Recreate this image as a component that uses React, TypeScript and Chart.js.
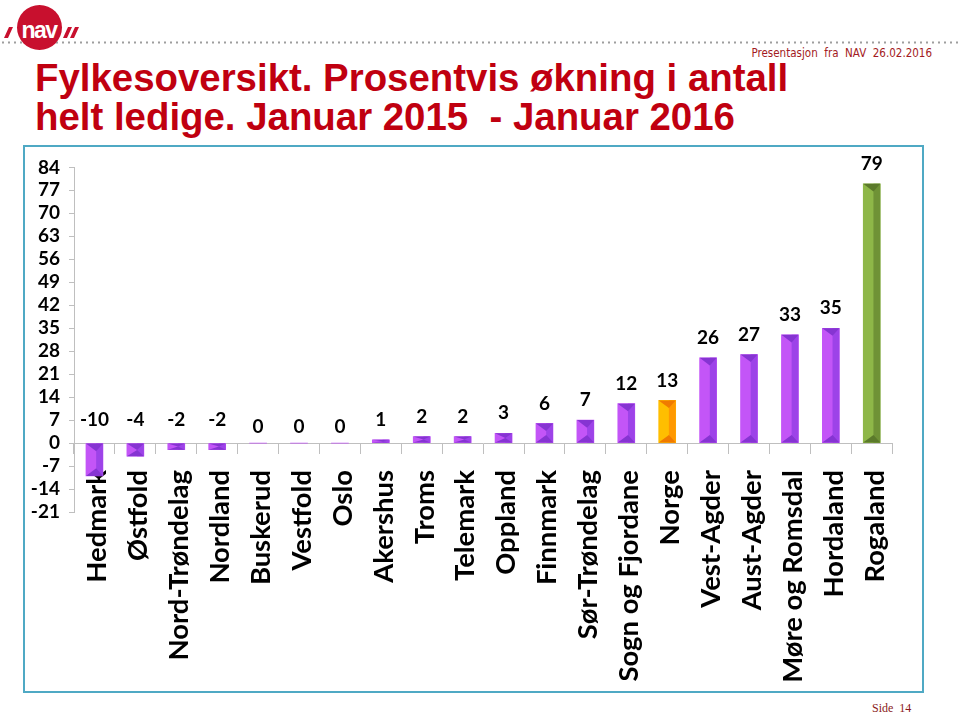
import React, { useEffect, useRef } from "react";
import { Chart, registerables } from "chart.js";

Chart.register(...registerables);

// ---- data ----
const categories = [
  "Hedmark",
  "Østfold",
  "Nord-Trøndelag",
  "Nordland",
  "Buskerud",
  "Vestfold",
  "Oslo",
  "Akershus",
  "Troms",
  "Telemark",
  "Oppland",
  "Finnmark",
  "Sør-Trøndelag",
  "Sogn og Fjordane",
  "Norge",
  "Vest-Agder",
  "Aust-Agder",
  "Møre og Romsdal",
  "Hordaland",
  "Rogaland",
];
const values = [-10, -4, -2, -2, 0, 0, 0, 1, 2, 2, 3, 6, 7, 12, 13, 26, 27, 33, 35, 79];
const yTicks = [-21, -14, -7, 0, 7, 14, 21, 28, 35, 42, 49, 56, 63, 70, 77, 84];

// ---- styles ----
type Palette = { light: string; dark: string; edge: string };
const PURPLE: Palette = { light: "#C355F7", dark: "#9D43E8", edge: "#8634D2" };
const ORANGE: Palette = { light: "#FFBE00", dark: "#FF9800", edge: "#F07A00" };
const GREEN: Palette = { light: "#8EB748", dark: "#6F9236", edge: "#5B7A2B" };
const highlight: Record<string, Palette> = { Norge: ORANGE, Rogaland: GREEN };
const paletteFor = (c: string) => highlight[c] || PURPLE;

const FONT = "Lato, Carlito, Calibri, sans-serif";

const bevelPlugin = {
  id: "bevelAndLabels",
  afterDatasetsDraw(chart: any) {
    const ctx = chart.ctx;
    const meta = chart.getDatasetMeta(0);
    const yScale = chart.scales.y;
    ctx.save();
    meta.data.forEach((el: any, i: number) => {
      const p = paletteFor(categories[i]);
      const { x, y, base, width } = el.getProps(["x", "y", "base", "width"], true);
      const left = x - width / 2;
      const right = x + width / 2;
      const top = Math.min(y, base);
      const bottom = Math.max(y, base);
      const h = bottom - top;
      if (h > 0.5) {
        const apex = left + width * 0.6;
        const th = Math.min(width * 0.45, h / 2);
        ctx.fillStyle = p.dark;
        ctx.fillRect(apex, top, right - apex, h);
        ctx.fillStyle = p.edge;
        ctx.beginPath();
        ctx.moveTo(left, top);
        ctx.lineTo(right, top);
        ctx.lineTo(apex, top + th);
        ctx.closePath();
        ctx.fill();
        ctx.beginPath();
        ctx.moveTo(left, bottom);
        ctx.lineTo(right, bottom);
        ctx.lineTo(apex, bottom - th);
        ctx.closePath();
        ctx.fill();
      }
      const v = values[i];
      const off = v < 0 ? 23 : v === 0 ? 16 : 20;
      const ly = yScale.getPixelForValue(Math.max(v, 0)) - off;
      ctx.fillStyle = "#000";
      ctx.font = `bold 19px ${FONT}`;
      ctx.textAlign = "center";
      ctx.textBaseline = "middle";
      ctx.fillText(String(v), x, ly);
    });
    ctx.restore();
  },
};

function ChartBox() {
  const ref = useRef<HTMLCanvasElement>(null);
  useEffect(() => {
    const canvas = ref.current!;
    const chart = new Chart(canvas, {
      type: "bar",
      data: {
        labels: categories,
        datasets: [
          {
            data: values,
            backgroundColor: categories.map((c) => paletteFor(c).light),
            borderWidth: 0,
            barThickness: 17,
          },
        ],
      },
      options: {
        responsive: false,
        animation: false,
        devicePixelRatio: 1,
        layout: { padding: { left: 0, top: 20, right: 15, bottom: 179 } },
        plugins: { legend: { display: false }, tooltip: { enabled: false } },
        scales: {
          x: {
            position: { y: 0 } as any,
            z: 1,
            offset: true,
            grid: {
              display: true,
              drawOnChartArea: false,
              drawTicks: true,
              tickLength: 10,
              color: "#BFBFBF",
              offset: true,
            },
            border: { display: true, color: "#BFBFBF", width: 1 },
            ticks: {
              autoSkip: false,
              minRotation: 90,
              maxRotation: 90,
              padding: 17,
              labelOffset: 3,
              color: "#000",
              font: { family: FONT, weight: "bold", size: 27.4 },
            },
          },
          y: {
            min: yTicks[0],
            max: yTicks[yTicks.length - 1],
            afterBuildTicks: (s: any) => {
              s.ticks = yTicks.map((v) => ({ value: v }));
            },
            afterFit: (s: any) => {
              s.width = 49;
            },
            grid: { drawOnChartArea: false, tickLength: 5, color: "#BFBFBF" },
            border: { color: "#BFBFBF" },
            ticks: {
              autoSkip: false,
              padding: 9,
              color: "#000",
              font: { family: FONT, weight: "bold", size: 19 },
            },
          },
        },
      } as any,
      plugins: [bevelPlugin],
    });
    return () => chart.destroy();
  }, []);
  return (
    <canvas
      ref={ref}
      width={897}
      height={544}
      style={{ position: "absolute", left: 25, top: 147, width: 897, height: 544 }}
    />
  );
}

export default function App() {
  return (
    <div
      style={{
        position: "absolute",
        left: 0,
        top: 0,
        width: 960,
        height: 717,
        overflow: "hidden",
        background: "#fff",
      }}
    >
      <svg width={960} height={60} style={{ position: "absolute", left: 0, top: 0 }}>
        <line x1={2} y1={42.5} x2={960} y2={42.5} stroke="#9E9E9E" strokeWidth={2} strokeDasharray="2 4" />
        <polygon points="4,38 8,38 13,27 9,27" fill="#C8102E" />
        <polygon points="63,38 67,38 72,27 68,27" fill="#C8102E" />
        <polygon points="70,38 74,38 79,27 75,27" fill="#C8102E" />
        <circle cx={39.5} cy={27.5} r={22.5} fill="#C8102E" />
        <text
          x={39}
          y={38}
          textAnchor="middle"
          fill="#fff"
          fontFamily="Liberation Sans, Arial, sans-serif"
          fontWeight="bold"
          fontSize={23}
          letterSpacing={-1.5}
        >
          nav
        </text>
      </svg>
      <div
        style={{
          position: "absolute",
          right: 28,
          top: 45,
          fontFamily: "'DejaVu Sans Condensed', 'DejaVu Sans', sans-serif",
          fontSize: 11.5,
          color: "#A31A22",
          whiteSpace: "pre",
          lineHeight: "16px",
        }}
      >
        {"Presentasjon  fra  NAV  26.02.2016"}
      </div>
      <div
        style={{
          position: "absolute",
          left: 35,
          top: 58,
          fontFamily: "'Liberation Sans', Arial, sans-serif",
          fontWeight: "bold",
          fontSize: 38.4,
          lineHeight: "39px",
          color: "#C00010",
          whiteSpace: "pre",
        }}
      >
        {"Fylkesoversikt. Prosentvis økning i antall\nhelt ledige. Januar 2015  - Januar 2016"}
      </div>
      <div
        style={{
          position: "absolute",
          left: 23,
          top: 145,
          width: 897,
          height: 544,
          border: "2px solid #4FA9C4",
        }}
      />
      <ChartBox />
      <div
        style={{
          position: "absolute",
          left: 872,
          top: 701,
          fontFamily: "'Liberation Serif', 'DejaVu Serif', serif",
          fontSize: 12,
          color: "#8B1A1A",
          whiteSpace: "pre",
          lineHeight: "14px",
        }}
      >
        {"Side  14"}
      </div>
    </div>
  );
}
